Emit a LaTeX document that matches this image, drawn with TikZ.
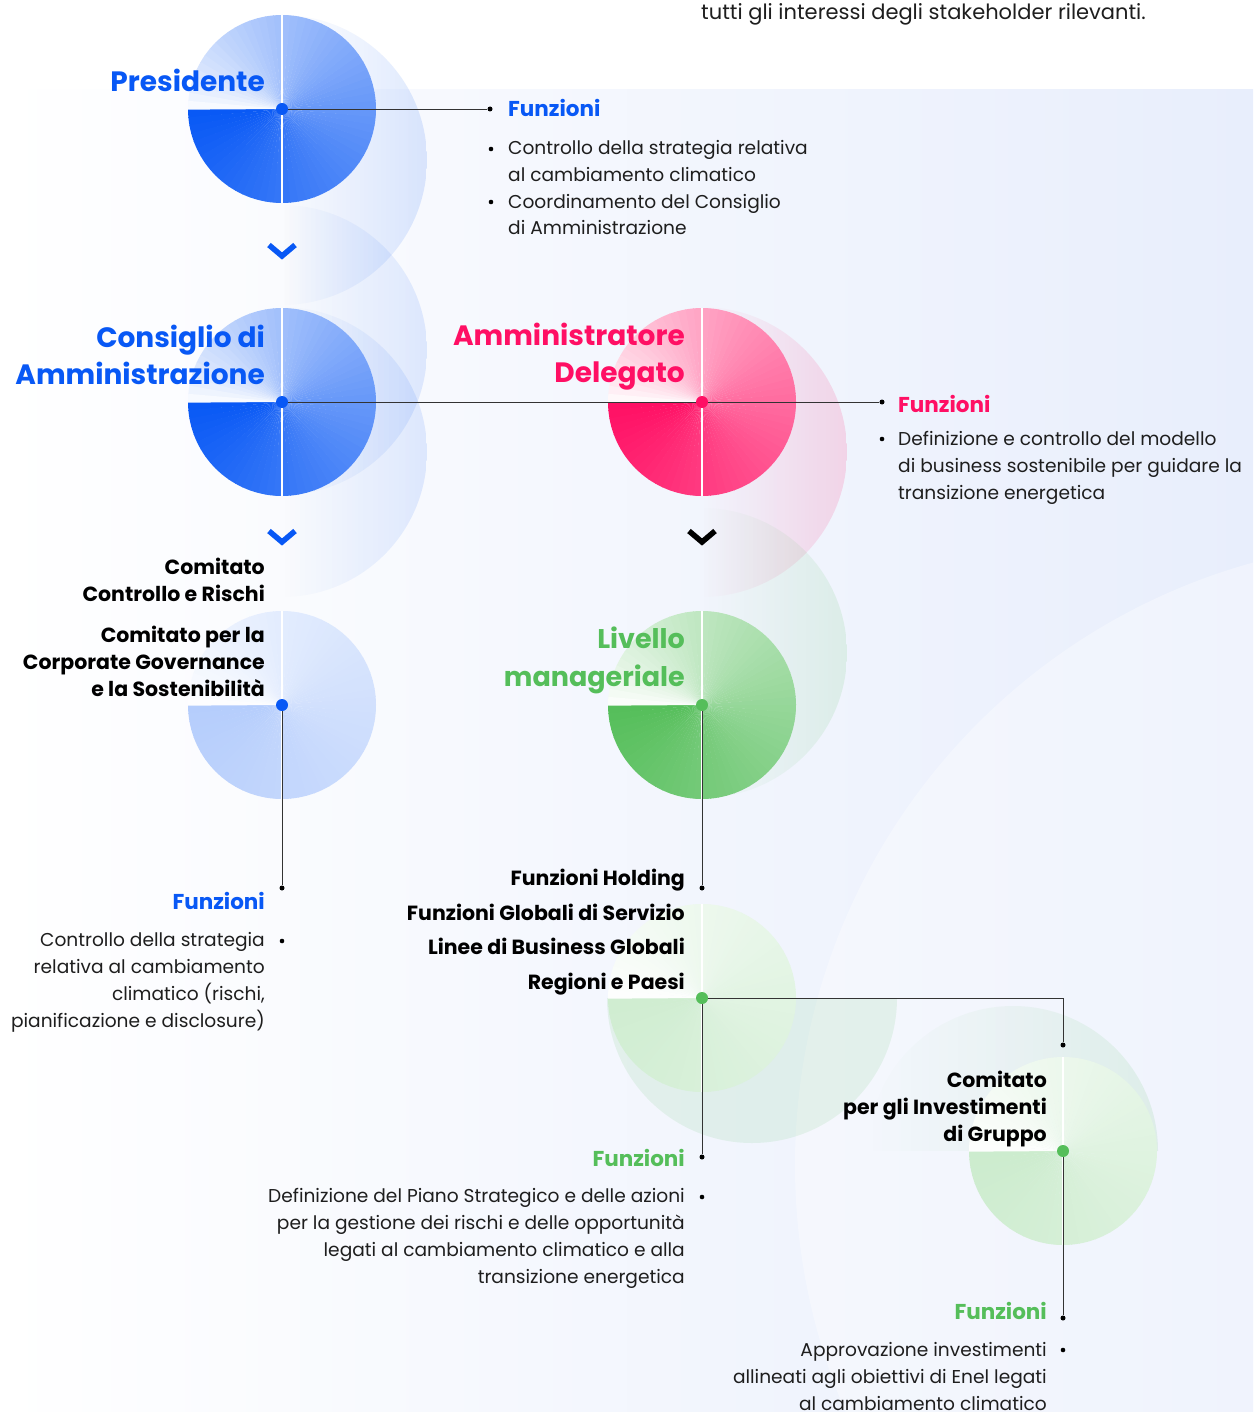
\documentclass[tikz,border=0pt]{standalone}
\usepackage{fontspec}
\setmainfont{Poppins}
\usetikzlibrary{fadings,calc}

\definecolor{enelblue}{RGB}{8,88,245}
\definecolor{enelpink}{RGB}{255,15,100}
\definecolor{enelgreen}{RGB}{85,190,90}
\definecolor{txt}{RGB}{30,30,30}
\definecolor{panel}{RGB}{232,238,252}

\tikzfading[name=fade in east, left color=transparent!100, right color=transparent!0]

% quartered disc with a conic colour sweep: centre, colour, strength
\newcommand{\quartdisc}[3]{%
  \foreach \i in {0,...,71}{%
    \pgfmathsetmacro\pct{#3*100*(1-(\i+0.5)/72)^0.7}
    \fill[#2!\pct!white] (#1) -- ++(180-\i*5:94) arc[start angle=180-\i*5, end angle=175-\i*5-0.4, radius=94] -- cycle;
  }
  \draw[white, line width=1.2pt] (#1) -- ++(0,94);
  \draw[white, line width=1.2pt] (#1) -- ++(0,-94);
}
% faint halo, right half only: centre, colour, opacity
\newcommand{\haze}[3]{%
  \begin{scope}
    \clip (#1) circle[radius=145];
    \fill[#2, fill opacity=#3, path fading=fade in east] (#1) ++(0,-145) rectangle ++(145,290);
  \end{scope}
}

\begin{document}
\begin{tikzpicture}[x=1pt, y=-1pt,
  ttl/.style={font=\bfseries\fontsize{28}{37}\selectfont, align=right, inner sep=0pt},
  head/.style={font=\bfseries\fontsize{21.5}{26}\selectfont, inner sep=0pt},
  unit/.style={font=\bfseries\fontsize{20.5}{27}\selectfont, align=right, inner sep=0pt, text=black},
  body/.style={font=\fontsize{18.6}{26.7}\selectfont, inner sep=0pt, text=txt},
  hub/.style={circle, fill=#1, minimum size=12pt, inner sep=0pt},
  tip/.style={circle, fill=black, minimum size=5pt, inner sep=0pt},
  link/.style={draw=black!80, line width=0.9pt},
  chev/.style={draw=#1, line width=5.5pt, miter limit=10}
]
\useasboundingbox (0,0) rectangle (1253,1412);
\clip (0,0) rectangle (1253,1412);

% background panel
\fill[white] (0,0) rectangle (1253,1412);
\shade[left color=white, right color=panel] (0,90) rectangle (1253,1412);
\fill[white, fill opacity=0.35] (1420,1165) circle[radius=625];

% halos
\haze{282,160}{enelblue}{0.13}
\haze{282,350}{enelblue}{0.11}
\haze{282,452}{enelblue}{0.11}
\haze{702,452}{enelpink}{0.14}
\haze{702,653}{enelgreen}{0.13}
\begin{scope}
  \clip (600,998) rectangle (900,1150);
  \fill[enelgreen, fill opacity=0.11] (752,998) circle[radius=145];
\end{scope}
\begin{scope}
  \clip (1013,1151) circle[radius=145];
  \fill[enelgreen, fill opacity=0.12, path fading=fade in east] (868,1000) rectangle (1160,1151);
\end{scope}

% discs
\quartdisc{282,109}{enelblue}{1}
\quartdisc{282,402}{enelblue}{1}
\quartdisc{702,402}{enelpink}{1}
\quartdisc{282,705}{enelblue}{0.3}
\quartdisc{702,705}{enelgreen}{1}
\quartdisc{702,998}{enelgreen}{0.28}
\quartdisc{1063,1151}{enelgreen}{0.3}

% chevrons
\draw[chev=enelblue] (269,245) -- (282,256) -- (295,245);
\draw[chev=enelblue] (269,531) -- (282,542) -- (295,531);
\draw[chev=black] (689,531) -- (702,542) -- (715,531);

% hubs and line ends
\node[hub=enelblue] (pres) at (282,109) {};
\node[hub=enelblue] (cda) at (282,402) {};
\node[hub=enelpink] (ad) at (702,402) {};
\node[hub=enelblue] (gov) at (282,705) {};
\node[hub=enelgreen] (mgr) at (702,705) {};
\node[hub=enelgreen] (reg) at (702,998) {};
\node[hub=enelgreen] (inv) at (1063,1151) {};

\node[tip] (presF) at (490,109) {};
\node[tip] (adF) at (882,402) {};
\node[tip] (govF) at (282,888) {};
\node[tip] (mgrF) at (702,888) {};
\node[tip] (regF) at (702,1157) {};
\node[tip] (invT) at (1063,1045) {};
\node[tip] (invF) at (1063,1318) {};

\draw[link] (pres) -- (presF);
\draw[link] (cda) -- (ad);
\draw[link] (ad) -- (adF);
\draw[link] (gov) -- (govF);
\draw[link] (mgr) -- (mgrF);
\draw[link] (reg) -- (regF);
\draw[link] (reg) -| (invT);
\draw[link] (inv) -- (invF);

% bullets
\foreach \p in {{491,149}, {491,202}, {882,439}, {282,941}, {702,1197}, {1063,1350}}
  \fill[black] (\p) circle[radius=2.3];

% texts (base = last line)
\node[body, font=\fontsize{21}{26}\selectfont, anchor=base west] (intro) at (701,20) {tutti gli interessi degli stakeholder rilevanti.};

\node[ttl, text=enelblue, anchor=base east] (presT) at (265,92) {Presidente};
\node[head, text=enelblue, anchor=base west] (presH) at (508,117) {Funzioni};
\node[body, align=left, anchor=base west] (presL) at (508,235) {Controllo della strategia relativa\\al cambiamento climatico\\Coordinamento del Consiglio\\di Amministrazione};

\node[ttl, text=enelblue, anchor=base east] (cdaT) at (265,384) {Consiglio di\\Amministrazione};
\node[ttl, text=enelpink, anchor=base east] (adT) at (685,382) {Amministratore\\Delegato};
\node[head, text=enelpink, anchor=base west] (adH) at (898,412) {Funzioni};
\node[body, align=left, anchor=base west] (adL) at (898,499) {Definizione e controllo del modello\\di business sostenibile per guidare la\\transizione energetica};

\node[unit, anchor=base east] (ccr) at (265,601) {Comitato\\Controllo e Rischi};
\node[unit, anchor=base east] (cgs) at (265,696) {Comitato per la\\Corporate Governance\\e la Sostenibilità};
\node[head, text=enelblue, anchor=base east] (govH) at (265,909) {Funzioni};
\node[body, align=right, anchor=base east] (govL) at (265,1027) {Controllo della strategia\\relativa al cambiamento\\climatico (rischi,\\pianificazione e disclosure)};

\node[ttl, text=enelgreen, font=\bfseries\fontsize{27}{38}\selectfont, anchor=base east] (mgrT) at (685,686) {Livello\\manageriale};
\node[unit, font=\bfseries\fontsize{20.5}{34.5}\selectfont, anchor=base east] (mgrL) at (685,989) {Funzioni Holding\\Funzioni Globali di Servizio\\Linee di Business Globali\\Regioni e Paesi};
\node[head, text=enelgreen, anchor=base east] (regH) at (685,1166) {Funzioni};
\node[body, align=right, anchor=base east] (regL) at (685,1283) {Definizione del Piano Strategico e delle azioni\\per la gestione dei rischi e delle opportunità\\legati al cambiamento climatico e alla\\transizione energetica};

\node[unit, anchor=base east] (invT2) at (1047,1141) {Comitato\\per gli Investimenti\\di Gruppo};
\node[head, text=enelgreen, anchor=base east] (invH) at (1047,1319) {Funzioni};
\node[body, align=right, anchor=base east] (invL) at (1047,1410) {Approvazione investimenti\\allineati agli obiettivi di Enel legati\\al cambiamento climatico};
\end{tikzpicture}
\end{document}
